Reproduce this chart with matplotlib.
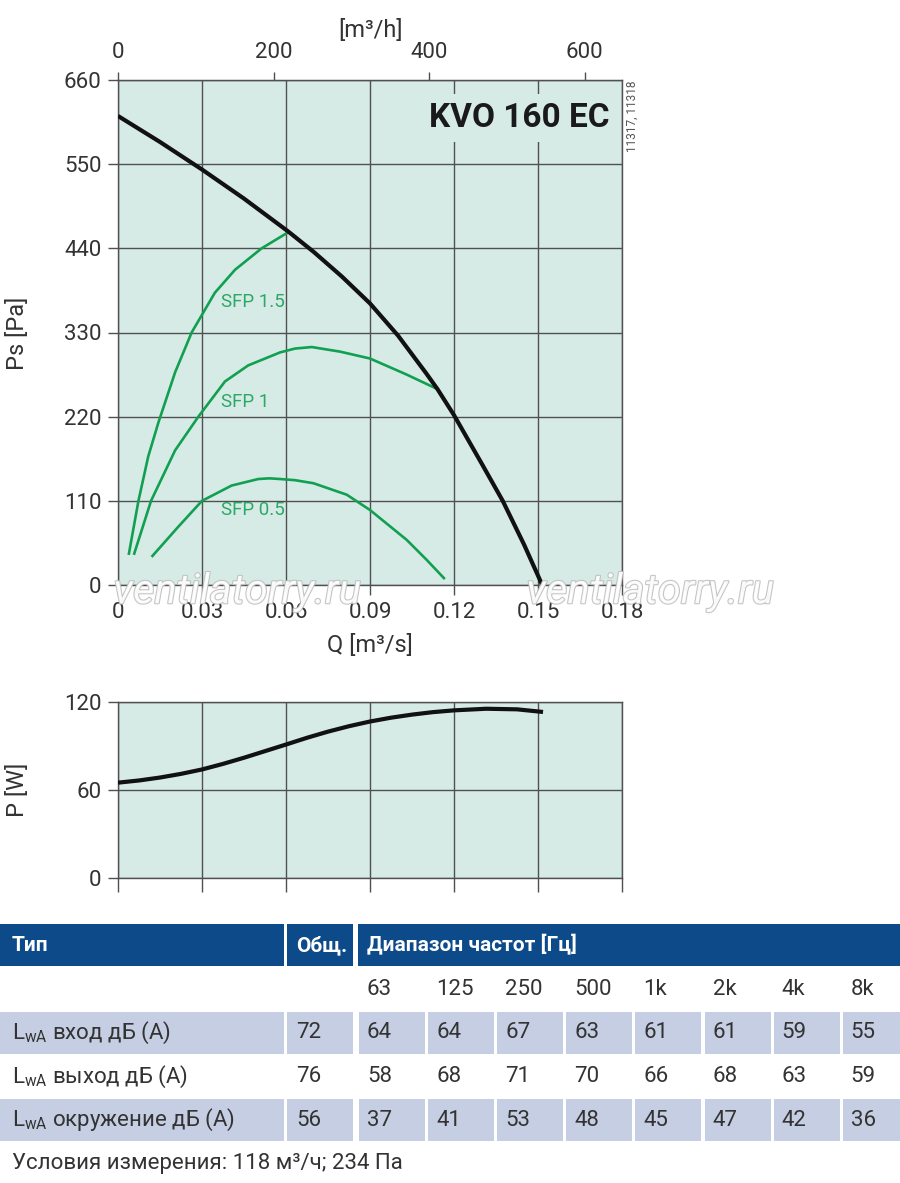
import numpy as np
import matplotlib.pyplot as plt
from matplotlib.patches import Rectangle
import matplotlib.patheffects as pe

plt.rcParams['font.family'] = ['Roboto', 'DejaVu Sans']

# fan curve Ps(Q)
q_fan = [0, 0.015, 0.03, 0.045, 0.0608, 0.07, 0.08, 0.09, 0.1, 0.11, 0.1141, 0.12, 0.13,
         0.1374, 0.145, 0.1515]
ps_fan = [613, 579, 543, 505, 462, 435, 403, 368, 326, 277, 256, 222, 158, 110, 53, 0]

# SFP lines
q_sfp15 = [0.0039, 0.0073, 0.0108, 0.0144, 0.0204, 0.0263, 0.0346, 0.0418, 0.0513, 0.0608]
ps_sfp15 = [41, 110, 168, 212, 278, 330, 382, 412, 440, 461]
q_sfp1 = [0.0058, 0.0118, 0.0204, 0.0287, 0.0382, 0.0465, 0.0579, 0.0632, 0.0692, 0.0793,
          0.09, 0.1031, 0.1141]
ps_sfp1 = [41, 110, 176, 220, 266, 287, 304, 309, 311, 305, 296, 275, 256]
q_sfp05 = [0.0123, 0.0215, 0.03, 0.0406, 0.0501, 0.054, 0.0579, 0.0632, 0.0698, 0.0817,
           0.09, 0.1031, 0.1102, 0.1164]
ps_sfp05 = [38, 76, 110, 130, 138.5, 139.4, 138.5, 137, 133, 118, 98, 59, 33, 9]
sfp_names = ['SFP 1.5', 'SFP 1', 'SFP 0.5']
sfp_label_pos = [(0.0368, 370), (0.0368, 239), (0.0368, 98)]

# power curve
q_pow = [0, 0.0075, 0.015, 0.0225, 0.03, 0.0375, 0.045, 0.0525, 0.06, 0.0675, 0.075,
         0.0825, 0.09, 0.0975, 0.105, 0.1125, 0.12, 0.1315, 0.1425, 0.1518]
p_pow = [65, 66.5, 68.5, 71, 74, 77.8, 82, 86.5, 91, 95.6, 99.8, 103.5, 106.7, 109.3,
         111.4, 113.1, 114.3, 115.4, 115, 113.2]

q_ticks = [0, 0.03, 0.06, 0.09, 0.12, 0.15, 0.18]
q_labels = ['0', '0.03', '0.06', '0.09', '0.12', '0.15', '0.18']
ps_ticks = [0, 110, 220, 330, 440, 550, 660]
p_ticks = [0, 60, 120]
mh_ticks = [0, 200, 400, 600]

# sound table
freq_labels = ['63', '125', '250', '500', '1k', '2k', '4k', '8k']
row_names = ['вход дБ (А)', 'выход дБ (А)', 'окружение дБ (А)']
row_total = [72, 76, 56]
row_bands = [[64, 64, 67, 63, 61, 61, 59, 55],
             [58, 68, 71, 70, 66, 68, 63, 59],
             [37, 41, 53, 48, 45, 47, 42, 36]]

BG = '#d7ebe6'
GRID = '#505050'
TXT = '#333333'
GREEN = '#11a052'
BLUE = '#0c4a8a'
FILL = '#c5cee2'

W, H = 900, 1183
fig = plt.figure(figsize=(9, 11.83), dpi=100)


def frac(left, top, right, bottom):
    return [left / W, 1 - bottom / H, (right - left) / W, (bottom - top) / H]


def style(a, ylim, yticks):
    a.set_facecolor(BG)
    a.set_xlim(0, 0.18)
    a.set_ylim(*ylim)
    a.set_xticks(q_ticks)
    a.set_yticks(yticks)
    a.grid(True, color=GRID, lw=1)
    a.set_axisbelow(True)
    for s in a.spines.values():
        s.set_color(GRID)
        s.set_linewidth(1)
    a.tick_params(length=7, width=1, color=GRID, labelsize=16, labelcolor=TXT, pad=5)


ax = fig.add_axes(frac(118, 80, 622, 585))
style(ax, (0, 660), ps_ticks)
ax.set_xticklabels(q_labels)
ax.plot(q_fan, ps_fan, color='#111111', lw=3, solid_capstyle='butt', solid_joinstyle='round', zorder=4)
for q, p in [(q_sfp15, ps_sfp15), (q_sfp1, ps_sfp1), (q_sfp05, ps_sfp05)]:
    ax.plot(q, p, color=GREEN, lw=1.9, solid_joinstyle='round', zorder=3)
for name, (x, y) in zip(sfp_names, sfp_label_pos):
    ax.text(x, y, name, color='#2aa866', fontsize=13.5, ha='left', va='center')

sec = ax.secondary_xaxis('top', functions=(lambda q: q * 3600, lambda v: v / 3600))
sec.set_xticks(mh_ticks)
sec.tick_params(length=6, width=1, color=GRID, labelsize=16, labelcolor=TXT, pad=6)
sec.spines['top'].set_color(GRID)

ax.text(0.976, 0.925, 'KVO 160 EC', transform=ax.transAxes, ha='right', va='center',
        fontsize=24, fontweight='bold', color='#1a1a1a',
        bbox=dict(facecolor=BG, edgecolor='none', pad=6), zorder=5)

ax2 = fig.add_axes(frac(118, 702, 622, 878))
style(ax2, (0, 120), p_ticks)
ax2.set_xticklabels([])
ax2.tick_params(axis='x', length=10)
ax2.plot(q_pow, p_pow, color='#111111', lw=3, solid_capstyle='butt', solid_joinstyle='round', zorder=4)

# overlay in pixel coordinates for labels and the table
tab = fig.add_axes([0, 0, 1, 1])
tab.set_xlim(0, W)
tab.set_ylim(H, 0)
tab.axis('off')

tab.text(370, 30, '[m³/h]', fontsize=17, color=TXT, ha='center', va='center')
tab.text(370, 645, 'Q [m³/s]', fontsize=17, color=TXT, ha='center', va='center')
tab.text(17, 333, 'Ps [Pa]', fontsize=17, color=TXT, ha='center', va='center', rotation=90)
tab.text(17, 790, 'P [W]', fontsize=17, color=TXT, ha='center', va='center', rotation=90)
tab.text(632, 80, '11317, 11318', fontsize=8.5, color='#555555', ha='center', va='top', rotation=90)

for xc in (237, 650):
    tab.text(xc, 592, 'ventilatorry.ru', fontsize=30, style='italic', color='white',
             ha='center', va='center', alpha=0.9,
             path_effects=[pe.withStroke(linewidth=1.5, foreground='#bdbdbd')], zorder=10)

# table
col_x = [359 + i * 69.1 for i in range(8)]
col_w = 66
tab.add_patch(Rectangle((0, 924), 284, 42, color=BLUE, lw=0))
tab.add_patch(Rectangle((287, 924), 66, 42, color=BLUE, lw=0))
tab.add_patch(Rectangle((358, 924), 542, 42, color=BLUE, lw=0))
for x, s in [(12, 'Тип'), (296, 'Общ.'), (367, 'Диапазон частот [Гц]')]:
    tab.text(x, 945, s, color='white', fontsize=15, fontweight='bold', ha='left', va='center')

for x, f in zip(col_x, freq_labels):
    tab.text(x + 8, 989, f, color=TXT, fontsize=16, ha='left', va='center')

row_top = [1012, 1056, 1099]
for i, (name, tot, bands) in enumerate(zip(row_names, row_total, row_bands)):
    y0 = row_top[i]
    yc = y0 + 21
    if i != 1:
        tab.add_patch(Rectangle((0, y0), 284, 42, color=FILL, lw=0))
        tab.add_patch(Rectangle((287, y0), 66, 42, color=FILL, lw=0))
        for x in col_x:
            tab.add_patch(Rectangle((x, y0), col_w, 42, color=FILL, lw=0))
    tab.text(12, yc, 'L$_\\mathregular{wA}$ ' + name, color=TXT, fontsize=16, ha='left', va='center')
    tab.text(296, yc, str(tot), color=TXT, fontsize=16, ha='left', va='center')
    for x, v in zip(col_x, bands):
        tab.text(x + 8, yc, str(v), color=TXT, fontsize=16, ha='left', va='center')

tab.text(12, 1163, 'Условия измерения: 118 м³/ч; 234 Па', color=TXT, fontsize=16,
         ha='left', va='center')

fig.savefig('out.png', dpi=100)
